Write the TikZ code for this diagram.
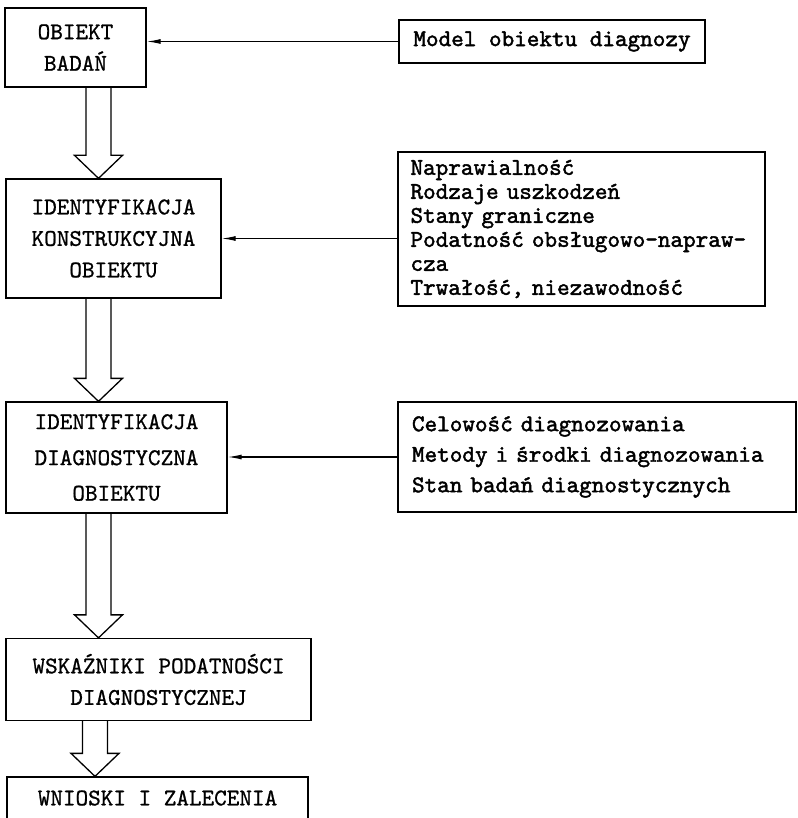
\documentclass[tikz,border=0pt]{standalone}
\usepackage{fontspec}
\newfontfamily\stagefont{lmmono10-regular.otf}[FakeBold=0.9]
\newfontfamily\listfont{lmmono10-regular.otf}[FakeBold=1.8]
\usetikzlibrary{calc,arrows.meta}

% wide hollow arrow: #1 axis x, #2 upper node, #3 lower node
\newcommand{\hollowarrow}[3]{%
  \draw[hollow_arrow] let \p1=(#2.south), \p2=(#3.north) in
    (#1pt-12.5pt,\y1) -- (#1pt-12.5pt,\y2+23pt) -- (#1pt-24pt,\y2+23pt) -- (#1pt,\y2)
    -- (#1pt+24pt,\y2+23pt) -- (#1pt+12.5pt,\y2+23pt) -- (#1pt+12.5pt,\y1);}

\begin{document}
\begin{tikzpicture}[x=1pt, y=-1pt,
        stage/.style={draw, line width=1.3pt, align=center, inner sep=0pt,
            font=\stagefont\fontsize{24}{31.5}\selectfont},
        source/.style={draw, line width=1.3pt, align=left, inner xsep=12.5pt, inner ysep=0pt,
            font=\listfont\fontsize{24}{24}\selectfont},
        feed_edge/.style={line width=1.2pt, -{Latex[length=14pt,width=5pt]}},
        hollow_arrow/.style={line width=1.3pt, line join=miter}
    ]
    \useasboundingbox (0,0) rectangle (797,818);

    % Etapy badania (lewa kolumna)
    \node[stage, minimum width=141pt, minimum height=79pt] (b1) at (75.5,47.5) {OBIEKT\\BADAŃ};
    \node[stage, minimum width=215pt, minimum height=119pt] (b2) at (113.5,238.5) {IDENTYFIKACJA\\KONSTRUKCYJNA\\OBIEKTU};
    \node[stage, minimum width=221pt, minimum height=111pt] (b3) at (116.5,457.5) {IDENTYFIKACJA\\[4.5pt]DIAGNOSTYCZNA\\[4pt]OBIEKTU};
    \node[stage, minimum width=305pt, minimum height=82pt] (b4) at (158.5,679.5) {WSKAŹNIKI PODATNOŚCI\\DIAGNOSTYCZNEJ};
    \node[stage, minimum width=301pt, minimum height=42pt] (b5) at (157.5,798) {WNIOSKI I ZALECENIA};

    % Dane wejsciowe (prawa kolumna)
    \node[source, align=center, minimum width=306pt, minimum height=43pt] (m) at (552,41.5) {Model obiektu diagnozy};
    \node[source, text width=342pt, minimum height=154pt] (r2) at (581.5,229)
        {Naprawialność\\Rodzaje uszkodzeń\\Stany graniczne\\Podatność obsługowo-napraw-\\cza\\Trwałość, niezawodność};
    \node[source, text width=370pt, inner xsep=14pt, minimum height=110pt,
        font=\listfont\fontsize{24}{30.5}\selectfont] (r3) at (597,457)
        {Celowość diagnozowania\\Metody i środki diagnozowania\\Stan badań diagnostycznych};

    % Strzalki zasilajace
    \draw[feed_edge] (m.west) -- (m.west -| b1.east);
    \draw[feed_edge] (r2.west |- b2.east) -- (b2.east);
    \draw[feed_edge] (r3.west) -- (r3.west -| b3.east);

    % Przejscia miedzy etapami
    \hollowarrow{98.5}{b1}{b2}
    \hollowarrow{98.5}{b2}{b3}
    \hollowarrow{98.5}{b3}{b4}
    \hollowarrow{95}{b4}{b5}

\end{tikzpicture}
\end{document}
